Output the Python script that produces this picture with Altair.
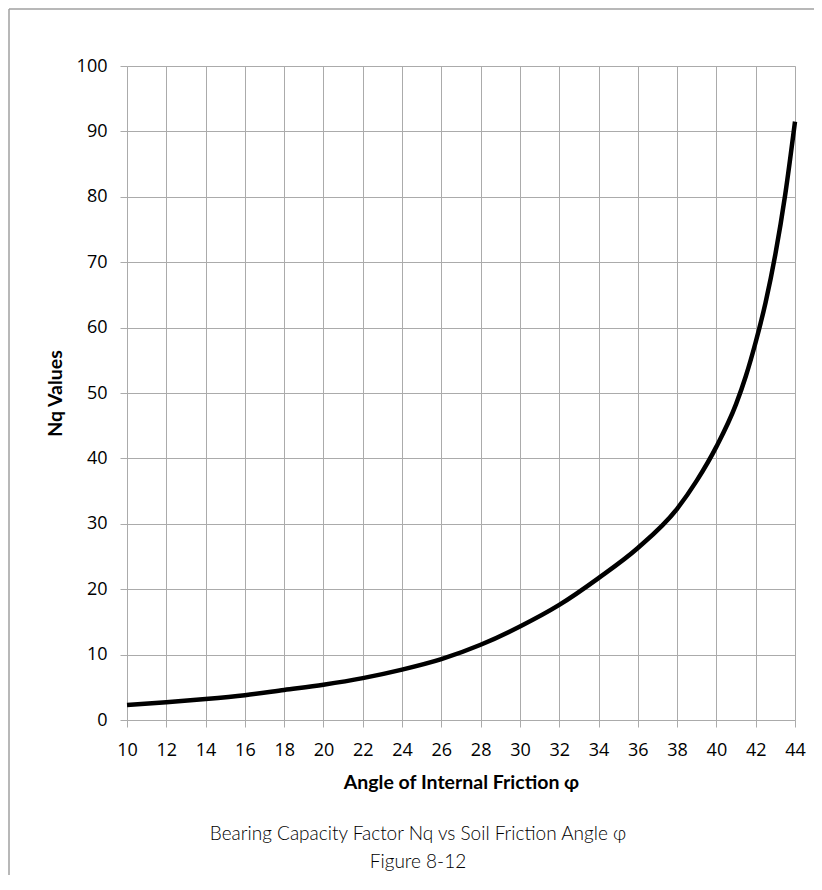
import altair as alt
import pandas as pd

# ---- data ----
angles = [10, 12, 14, 16, 18, 20, 22, 24, 26, 28, 30, 32, 34, 36, 38, 39, 40, 41, 41.5, 42, 42.5, 43, 43.5, 44]
nq_values = [2.3, 2.7, 3.2, 3.8, 4.6, 5.4, 6.4, 7.7, 9.3, 11.5, 14.3, 17.6, 21.7, 26.3, 32.3, 36.6,
             41.8, 48.3, 52.6, 57.8, 63.8, 71.2, 80.3, 91.5]
x_ticks = list(range(10, 45, 2))
y_ticks = list(range(0, 101, 10))
x_title = "Angle of Internal Friction φ"
y_title = "Nq Values"
caption = ["Bearing Capacity Factor Nq vs Soil Friction Angle φ", "Figure 8-12"]

df = pd.DataFrame({"angle": angles, "nq": nq_values})

W, H = 668, 654
PAD_L, PAD_T, PAD_R, PAD_B = 119, 58, 19, 155
GRID = "#ababab"

line = alt.Chart(df).mark_line(
    color="black", strokeWidth=4.5, interpolate="monotone", strokeCap="butt"
).encode(
    x=alt.X("angle:Q",
            scale=alt.Scale(domain=[10, 44], nice=False, zero=False),
            axis=alt.Axis(values=x_ticks, title=x_title, grid=True, gridColor=GRID, gridWidth=1,
                          domain=False, ticks=True, tickColor=GRID, tickSize=7, tickWidth=1,
                          labelFont="Open Sans", labelFontSize=18, labelColor="#000",
                          labelPadding=14, labelFlush=False, labelOverlap=False,
                          titleFont="Lato", titleFontSize=19.5, titleFontWeight="bold",
                          titleColor="#000", titleX=W / 2, titleY=68,
                          titleAlign="center", titleBaseline="alphabetic")),
    y=alt.Y("nq:Q",
            scale=alt.Scale(domain=[0, 100], nice=False),
            axis=alt.Axis(values=y_ticks, title=y_title, grid=True, gridColor=GRID, gridWidth=1,
                          domain=False, ticks=True, tickColor=GRID, tickSize=7, tickWidth=1,
                          labelFont="Open Sans", labelFontSize=18, labelColor="#000",
                          labelPadding=13, labelFlush=False, labelOverlap=False,
                          titleFont="Lato", titleFontSize=19.5, titleFontWeight="bold",
                          titleColor="#000", titleAngle=270, titleX=-72, titleY=H / 2,
                          titleAlign="center", titleBaseline="middle")),
)

frame_df = pd.DataFrame({"k": [0]})
top_rule = alt.Chart(frame_df).mark_rule(color="#a0a0a0", strokeWidth=1.5).encode(
    x=alt.value(-PAD_L + 1), x2=alt.value(W + PAD_R), y=alt.value(-PAD_T + 1)
)
left_rule = alt.Chart(frame_df).mark_rule(color="#a0a0a0", strokeWidth=1.5).encode(
    x=alt.value(-PAD_L + 1), y=alt.value(-PAD_T + 1), y2=alt.value(H + PAD_B)
)

caption_text = alt.Chart(frame_df).mark_text(
    font="Lato", fontSize=19, fontWeight=300, color="#000", align="center",
    baseline="alphabetic", lineHeight=28
).encode(
    x=alt.value(291), y=alt.value(774), text=alt.value(caption)
)

chart = alt.layer(line, top_rule, left_rule, caption_text).properties(
    width=W, height=H,
    padding={"left": PAD_L, "top": PAD_T, "right": PAD_R, "bottom": PAD_B},
    autosize=alt.AutoSizeParams(type="none"),
).configure_view(stroke=None).configure(background="white")

chart.save("out.html", embed_options={"renderer": "svg", "actions": False})
